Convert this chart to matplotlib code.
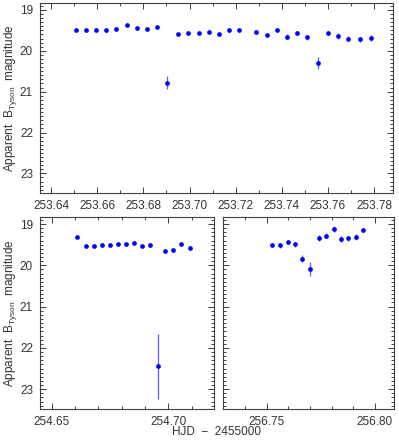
import numpy as np
import matplotlib
matplotlib.use('Agg')
import matplotlib.pyplot as plt
from matplotlib.ticker import MultipleLocator, FormatStrFormatter

plt.rcParams['font.family'] = ['Liberation Sans', 'DejaVu Sans']
plt.rcParams['mathtext.fontset'] = 'custom'
plt.rcParams['mathtext.rm'] = 'Liberation Sans'

# --- data (HJD - 2455000, apparent magnitude, error) ---
t_night1 = [253.6507, 253.6550, 253.6595, 253.6638, 253.6683, 253.6728, 253.6771, 253.6815,
            253.6859, 253.6904, 253.6950, 253.6995, 253.7040, 253.7083, 253.7128, 253.7172,
            253.7216, 253.7290, 253.7335, 253.7378, 253.7423, 253.7468, 253.7511, 253.7556,
            253.7601, 253.7645, 253.7689, 253.7741, 253.7786]
mag_night1 = [19.49, 19.50, 19.48, 19.50, 19.46, 19.37, 19.44, 19.46,
              19.42, 20.78, 19.59, 19.56, 19.56, 19.54, 19.59, 19.50,
              19.50, 19.53, 19.62, 19.48, 19.65, 19.56, 19.67, 20.30,
              19.56, 19.64, 19.70, 19.72, 19.69]
err_night1 = [0.03, 0.03, 0.03, 0.03, 0.03, 0.03, 0.03, 0.03,
              0.03, 0.16, 0.03, 0.03, 0.03, 0.03, 0.03, 0.03,
              0.03, 0.04, 0.04, 0.04, 0.05, 0.05, 0.06, 0.14,
              0.05, 0.07, 0.07, 0.07, 0.08]

t_night2 = [254.6609, 254.6647, 254.6682, 254.6716, 254.6750, 254.6784, 254.6818, 254.6852,
            254.6886, 254.6920, 254.6954, 254.6987, 254.7021, 254.7056, 254.7091]
mag_night2 = [19.32, 19.53, 19.53, 19.50, 19.52, 19.48, 19.49, 19.45,
              19.53, 19.52, 22.45, 19.66, 19.63, 19.48, 19.58]
err_night2 = [0.03, 0.03, 0.03, 0.03, 0.03, 0.03, 0.03, 0.03,
              0.03, 0.03, 0.79, 0.04, 0.04, 0.04, 0.04]

t_night3 = [256.7525, 256.7562, 256.7597, 256.7631, 256.7665, 256.7698, 256.7740,
            256.7776, 256.7809, 256.7843, 256.7877, 256.7911, 256.7946]
mag_night3 = [19.50, 19.52, 19.44, 19.49, 19.84, 20.08, 19.33,
              19.28, 19.12, 19.36, 19.35, 19.32, 19.14]
err_night3 = [0.05, 0.05, 0.05, 0.06, 0.08, 0.17, 0.07,
              0.07, 0.07, 0.07, 0.07, 0.07, 0.05]

ylabel = r'Apparent  B$_{\mathrm{Tyson}}$  magnitude'
axcol = '#404040'
txtcol = '#333333'

W, H = 399, 443
fig = plt.figure(figsize=(W / 100, H / 100), dpi=100)


def box(l, r, t, b):
    return [l / W, (H - b) / H, (r - l) / W, (b - t) / H]


ax_top = fig.add_axes(box(40, 393, 3, 193))
ax_bl = fig.add_axes(box(40, 214, 217, 409))
ax_br = fig.add_axes(box(223, 394, 217, 409))


def draw(ax, t, m, e, xlim, xmajor):
    ax.errorbar(t, m, yerr=e, fmt='o', color='#0000ff', ms=3.4, mew=0,
                ecolor='#5a5aff', elinewidth=0.9, capsize=0)
    ax.set_xlim(*xlim)
    ax.set_ylim(23.48, 18.83)
    ax.xaxis.set_major_locator(MultipleLocator(xmajor))
    ax.xaxis.set_minor_locator(MultipleLocator(0.01))
    ax.xaxis.set_major_formatter(FormatStrFormatter('%.2f'))
    ax.yaxis.set_major_locator(MultipleLocator(1))
    ax.yaxis.set_minor_locator(MultipleLocator(0.1))
    ax.tick_params(which='both', direction='in', top=True, right=True,
                   color=axcol, labelcolor=txtcol, labelsize=8.5, width=0.7)
    ax.tick_params(which='major', length=4, pad=5)
    ax.tick_params(which='minor', length=2)
    for s in ax.spines.values():
        s.set_color(axcol)
        s.set_linewidth(0.8)


draw(ax_top, t_night1, mag_night1, err_night1, (253.6352, 253.7882), 0.02)
draw(ax_bl, t_night2, mag_night2, err_night2, (254.645, 254.7196), 0.05)
draw(ax_br, t_night3, mag_night3, err_night3, (256.7298, 256.8088), 0.05)
ax_br.tick_params(labelleft=False)

# y labels placed to match the reference position
fig.text(11 / W, 1 - 98 / H, ylabel, rotation=90, ha='center', va='center',
         fontsize=8.5, color=txtcol)
fig.text(11 / W, 1 - 313 / H, ylabel, rotation=90, ha='center', va='center',
         fontsize=8.5, color=txtcol)

fig.text(217 / W, 1 - 432 / H, 'HJD  \u2212  2455000', ha='center', va='center',
         fontsize=8.5, color=txtcol)

fig.savefig('out.png', dpi=100)
